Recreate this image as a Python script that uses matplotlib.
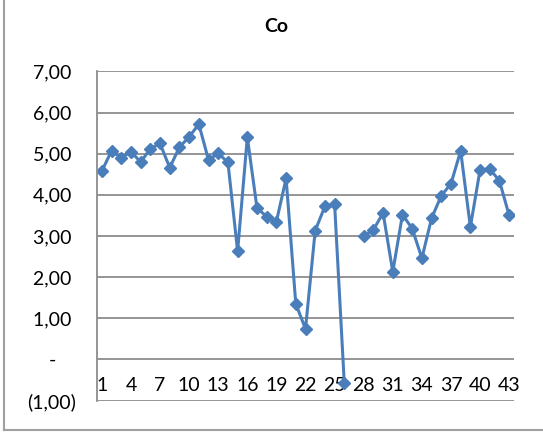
import numpy as np
import matplotlib.pyplot as plt
from matplotlib.lines import Line2D

plt.rcParams['font.family'] = ['Lato', 'DejaVu Sans']

# data (27 has no value)
categories = list(range(1, 44))
co_values = [4.58, 5.07, 4.90, 5.05, 4.80, 5.12, 5.25, 4.66, 5.16, 5.41,
             5.72, 4.85, 5.01, 4.79, 2.63, 5.40, 3.68, 3.47, 3.35, 4.40,
             1.35, 0.74, 3.13, 3.72, 3.78, -0.58, np.nan, 2.99, 3.15, 3.56,
             2.13, 3.52, 3.18, 2.46, 3.43, 3.98, 4.27, 5.07, 3.22, 4.61,
             4.63, 4.34, 3.50]
y_ticks = [-1, 0, 1, 2, 3, 4, 5, 6, 7]
y_labels = ['(1,00)', '-    ', '1,00 ', '2,00 ', '3,00 ', '4,00 ',
            '5,00 ', '6,00 ', '7,00 ']
x_ticks = categories[::3]

fig = plt.figure(figsize=(5.43, 4.43), dpi=100)
ax = fig.add_axes([97 / 543, 1 - 400.5 / 443, 417 / 543, 329 / 443])

# x axis sits on the zero line, like in Excel
for s in ['top', 'right']:
    ax.spines[s].set_visible(False)
ax.spines['bottom'].set_position(('data', 0))
ax.spines['bottom'].set_visible(False)
ax.spines['left'].set_color('#8C8C8C')
ax.spines['left'].set_linewidth(1.3)

ax.plot(categories, co_values, color='#4A7EBB', linewidth=2.2,
        marker='D', markersize=6.5, markeredgecolor='#4A7EBB')

ax.set_xlim(0.5, 43.5)
ax.set_ylim(-1, 7)
ax.set_yticks(y_ticks)
ax.set_yticklabels(y_labels)
ax.set_xticks(x_ticks)
ax.set_xticklabels([str(c) for c in x_ticks])
ax.tick_params(axis='both', length=0, labelsize=14)
ax.tick_params(axis='y', pad=15)
ax.tick_params(axis='x', pad=13)

for y in y_ticks:
    ax.axhline(y, color='#8C8C8C', linewidth=1.3, zorder=0)

fig.text(276 / 543, 1 - 27 / 443, 'Co', ha='center', va='center',
         fontsize=14, fontweight='bold')

# chart border (left and bottom visible in the reference)
fig.add_artist(Line2D([4 / 543, 4 / 543], [1 - 430 / 443, 1.0],
                      transform=fig.transFigure, color='#A0A0A0', linewidth=1.5))
fig.add_artist(Line2D([4 / 543, 1.0], [1 - 430 / 443, 1 - 430 / 443],
                      transform=fig.transFigure, color='#A0A0A0', linewidth=1.5))

fig.savefig('out.png', dpi=100)
